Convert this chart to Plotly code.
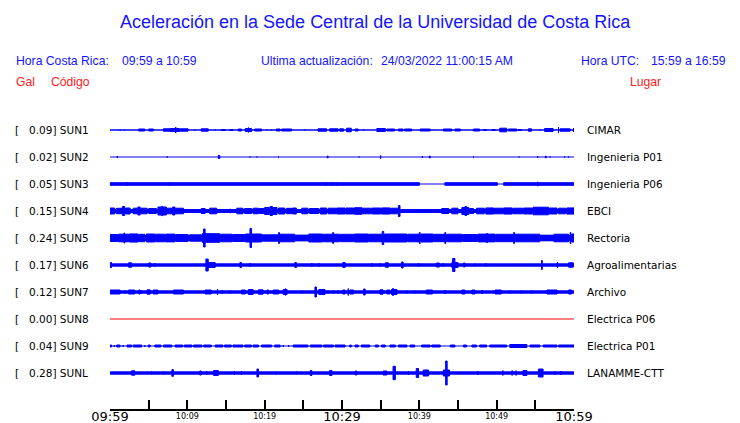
import plotly.graph_objects as go

# ---------------- data ----------------
stations = ["SUN1", "SUN2", "SUN3", "SUN4", "SUN5", "SUN6", "SUN7", "SUN8", "SUN9", "SUNL"]
gal_max = ["0.09", "0.02", "0.05", "0.15", "0.24", "0.17", "0.12", "0.00", "0.04", "0.28"]
places = ["CIMAR", "Ingenieria P01", "Ingenieria P06", "EBCI", "Rectoria",
          "Agroalimentarias", "Archivo", "Electrica P06", "Electrica P01", "LANAMME-CTT"]

# time axis (minutes after 09:59)
tick_minutes = [0, 5, 10, 15, 20, 25, 30, 35, 40, 45, 50, 55, 60]
minor_tick_minutes = [10, 20, 40, 50]
minor_tick_labels = ["10:09", "10:19", "10:39", "10:49"]
major_tick_minutes = [0, 30, 60]
major_tick_labels = ["09:59", "10:29", "10:59"]

# base (quiet) half-amplitude of each trace
base_amp = [0.7, 0.6, 0.6, 2.0, 3.0, 1.7, 1.7, 0.5, 0.6, 1.7]

# bursts: (start minute, end minute, half amplitude)
sun1 = [(1.3, 1.3, 1), (1.9, 1.9, 1), (3.7, 4.5, 1.5), (5.0, 5.6, 1.5), (6.9, 7.8, 1.7), (7.8, 9.0, 2),
        (8.5, 8.5, 3.5), (9.1, 10.1, 1.7), (11.0, 11.0, 1), (11.8, 12.7, 1.7), (13.6, 13.6, 1),
        (14.4, 14.9, 1), (15.5, 15.9, 1), (16.6, 17.0, 1.5), (17.5, 18.3, 2), (17.9, 17.9, 3),
        (18.7, 19.6, 1.5), (20.3, 20.3, 1), (20.9, 20.9, 1), (21.5, 22.0, 1.5), (22.2, 23.5, 1.5),
        (25.2, 25.2, 1), (26.9, 28.0, 1.7), (28.4, 29.5, 1.7), (29.7, 30.2, 1.7), (30.6, 31.2, 2.3),
        (31.7, 32.1, 1.5), (32.8, 32.8, 1), (34.5, 35.6, 2), (35.8, 36.8, 1.5), (37.3, 37.9, 1.5),
        (38.1, 39.0, 1.5), (40.1, 41.4, 1.5), (43.1, 44.2, 1.5), (44.6, 45.3, 1.5), (47.0, 47.8, 1.5),
        (48.3, 48.7, 1), (49.4, 49.8, 1), (50.4, 51.3, 2.3), (51.5, 52.6, 1.5), (52.8, 53.2, 1),
        (54.1, 54.5, 1.7), (55.6, 55.6, 1), (56.2, 57.3, 2), (58.0, 58.0, 3.5), (58.2, 59.5, 1.7),
        (59.9, 60, 2)]
sun2 = [(0.95, 0.95, 1.5), (7.4, 7.4, 1.2), (14.0, 14.2, 2), (18.1, 18.1, 1), (19.0, 19.0, 1),
        (21.8, 21.8, 1), (28.1, 28.2, 1.5), (32.2, 32.2, 1), (35.0, 35.0, 2), (40.4, 40.4, 1.5),
        (41.3, 41.4, 1.5), (47.0, 47.0, 1), (52.9, 52.9, 1), (55.3, 55.3, 1.5), (56.3, 56.4, 1.5),
        (56.9, 56.9, 1), (58.8, 58.8, 1), (59.3, 59.3, 1)]
sun3 = [(0, 40.0, 1.8), (43.3, 50.1, 1.8), (50.9, 60, 1.8), (0, 0, 2.5), (2.2, 2.2, 2.5), (7.7, 7.7, 2.5),
        (27.9, 27.9, 2.5), (28.8, 28.8, 2.5), (29.3, 29.3, 2.2), (55.3, 55.3, 2.7)]
sun4 = [(0, 0.6, 3.5), (0.8, 1.5, 3.2), (1.6, 1.9, 5), (2.0, 2.6, 3.5), (3.0, 3.5, 3.3), (3.6, 3.9, 4.5),
        (4.0, 4.8, 3.3), (5.0, 6.0, 3.0), (6.2, 7.3, 4.5), (6.7, 6.8, 5.2), (7.4, 8.0, 3.3), (8.1, 8.4, 4.5),
        (8.5, 9.5, 3.3), (11.8, 12.3, 3), (12.9, 13.8, 3.3), (15.5, 15.6, 2.5), (16.4, 17.2, 3.3),
        (17.4, 18.3, 3.0), (18.5, 19.2, 3.3), (19.3, 20.0, 3.0), (20.0, 20.6, 4.0), (20.7, 21.0, 5),
        (21.1, 21.6, 4.0), (21.8, 22.6, 3.5), (22.8, 23.5, 3.2), (23.6, 24.1, 3.5), (24.8, 25.6, 3.3),
        (25.8, 27.0, 3.0), (27.2, 28.0, 3.5), (28.2, 29.2, 3.3), (29.3, 30.4, 3.5), (30.5, 31.5, 3.5),
        (31.6, 32.6, 3.8), (32.7, 33.8, 3.3), (33.9, 35.0, 3.5), (35.1, 36.2, 3.6), (36.3, 37.2, 3.3),
        (37.3, 37.5, 6), (42.9, 43.8, 3.0), (44.2, 45.0, 3.3), (45.5, 46.4, 4.0), (45.9, 46.1, 5),
        (46.5, 47.0, 3.0), (47.4, 48.4, 3.3), (48.6, 49.6, 3.6), (49.7, 50.8, 3.3), (50.9, 52.0, 3.6),
        (52.1, 53.4, 3.3), (53.5, 54.6, 3.5), (54.7, 56.7, 4.3), (56.8, 57.8, 3.5), (58.0, 59.0, 3.3),
        (59.1, 60, 3.6)]
sun5 = [(0, 1.0, 4.0), (1.1, 2.4, 4.3), (1.8, 1.9, 5.5), (2.5, 3.6, 4.6), (3.7, 4.5, 4.2), (4.7, 5.8, 4.5),
        (5.9, 7.1, 4.3), (7.2, 8.4, 4.4), (8.5, 10.1, 4.0), (10.3, 11.8, 3.7), (11.9, 14.2, 4.8),
        (12.1, 12.3, 9.5), (14.3, 15.8, 4.3), (15.9, 17.4, 4.0), (17.5, 19.6, 4.5), (18.1, 18.3, 10),
        (19.7, 21.7, 3.7), (21.8, 23.9, 4.3), (21.8, 21.9, 6), (24.0, 25.6, 3.4), (25.7, 27.5, 4.5),
        (27.6, 29.7, 4.3), (28.8, 28.9, 6), (29.8, 31.5, 4.2), (31.6, 33.4, 4.5), (33.5, 35.2, 4.3),
        (35.2, 35.4, 7), (35.5, 38.4, 4.5), (38.5, 40.0, 4.3), (40.0, 40.1, 6), (40.2, 41.8, 4.5),
        (41.9, 43.5, 4.2), (43.3, 43.4, 6), (43.6, 45.5, 4.3), (45.6, 47.5, 4.0), (47.6, 49.8, 4.4),
        (48.7, 48.8, 5), (49.9, 52.1, 4.2), (52.2, 52.3, 6), (52.4, 55.6, 4.3), (55.7, 57.3, 3.3),
        (57.4, 59.3, 4.3), (59.5, 59.6, 6), (59.7, 60, 4.5)]
sun6 = [(0, 0.2, 3), (2.4, 2.8, 2.7), (5.0, 5.3, 2.5), (5.8, 5.8, 2.5), (12.4, 12.7, 6.5), (12.7, 13.6, 3),
        (16.8, 17.0, 3), (18.1, 18.1, 2.5), (23.9, 24.1, 3), (26.1, 26.1, 2.5), (27.0, 27.0, 2.5),
        (30.1, 30.4, 3), (33.9, 33.9, 2.5), (34.9, 34.9, 2.3), (35.6, 36.0, 2.7), (37.7, 37.9, 3.5),
        (39.9, 39.9, 2.5), (42.2, 42.6, 2.5), (43.1, 43.1, 2.5), (44.3, 44.6, 7), (44.2, 45.0, 3),
        (45.7, 45.9, 2.5), (47.2, 47.2, 2), (48.6, 48.6, 2), (55.8, 55.9, 5), (57.8, 57.9, 3),
        (59.3, 59.9, 2.7)]
sun7 = [(0, 1.3, 2.5), (1.9, 1.9, 2), (2.4, 3.2, 2.5), (3.7, 3.9, 2.5), (4.1, 4.1, 2), (4.8, 5.2, 2.7),
        (5.6, 6.2, 2.5), (8.2, 9.5, 2.5), (12.3, 13.1, 2.5), (13.9, 13.9, 3.5), (14.5, 14.5, 2.5),
        (15.5, 15.5, 2), (17.0, 17.5, 2.5), (17.9, 18.5, 3), (19.2, 19.8, 2.7), (20.3, 20.5, 2.5),
        (21.1, 21.8, 2.5), (22.4, 22.9, 3), (22.7, 22.7, 4), (24.8, 24.8, 2), (26.5, 26.7, 5.5),
        (27.0, 27.8, 3), (28.2, 28.2, 2), (28.9, 28.9, 2), (29.5, 29.5, 2), (30.1, 30.4, 2.5),
        (30.8, 30.8, 4), (31.0, 31.5, 2.5), (32.8, 33.0, 3.5), (34.9, 35.3, 2.7), (35.8, 36.2, 2.5),
        (36.4, 37.1, 3), (36.6, 36.6, 4.5), (38.4, 38.4, 2), (39.4, 39.4, 2), (40.9, 41.7, 2.5),
        (43.3, 43.3, 2.5), (45.5, 45.9, 2.5), (46.8, 47.2, 2.5), (48.1, 48.1, 2.5), (49.8, 50.6, 2.5),
        (51.7, 51.7, 2), (53.2, 53.2, 2), (54.5, 54.5, 2), (56.5, 57.8, 2.5), (59.3, 59.7, 2.5)]
sun8 = []
sun9 = [(0, 0.2, 1.5), (0.56, 0.56, 1.5), (0.86, 1.3, 1.5), (1.7, 1.7, 1.5), (2.2, 2.8, 1.5), (3.0, 4.1, 1.5),
        (4.5, 4.5, 1.5), (4.95, 5.2, 1.5), (5.8, 6.6, 1.5), (6.9, 8.0, 1.5), (8.4, 9.4, 1.5), (9.6, 10.6, 1.5),
        (10.8, 11.9, 1.5), (12.1, 13.1, 1.5), (13.6, 14.6, 1.5), (14.8, 15.7, 1.5), (15.9, 17.2, 1.5),
        (17.4, 18.3, 1.5), (18.5, 19.2, 1.5), (19.6, 20.9, 1.5), (21.3, 22.0, 1.5), (22.4, 22.4, 1.5),
        (23.1, 23.1, 1.5), (23.7, 25.6, 1.5), (25.9, 27.4, 1.5), (27.6, 28.9, 1.5), (29.1, 30.4, 1.5),
        (31.0, 31.2, 1.5), (31.7, 32.1, 1.5), (32.5, 33.6, 1.5), (34.3, 34.7, 1.5), (35.1, 35.6, 1.5),
        (36.2, 36.9, 1.5), (37.3, 38.4, 1.5), (38.8, 39.4, 1.5), (40.3, 41.4, 1.5), (41.6, 42.7, 1.5),
        (44.0, 44.6, 1.5), (45.7, 46.1, 1.5), (46.8, 47.4, 1.5), (47.8, 48.7, 1.5), (49.1, 51.3, 1.5),
        (51.7, 53.9, 2.0), (54.3, 55.6, 1.5), (56.0, 57.8, 1.5), (58.0, 60, 1.5)]
sunl = [(2.8, 3.2, 2.7), (5.4, 5.4, 2), (6.9, 6.9, 1.8), (8.0, 8.2, 3.8), (11.6, 11.8, 2.5), (12.5, 12.5, 2.5),
        (13.4, 14.0, 3), (16.1, 16.1, 2.5), (17.0, 17.0, 2.5), (19.0, 19.2, 4.5), (21.5, 21.5, 2),
        (24.1, 24.1, 2), (25.9, 26.1, 3), (28.4, 28.7, 3), (31.7, 31.9, 2.5), (35.3, 35.8, 2.5),
        (36.6, 36.9, 7.2), (38.6, 38.6, 2.5), (39.6, 39.9, 5), (40.5, 41.2, 3.5), (43.1, 43.9, 3.5),
        (43.4, 43.6, 12.5), (47.6, 47.6, 2.5), (50.8, 50.8, 3), (52.0, 52.0, 3), (52.5, 52.5, 3),
        (53.4, 53.9, 3), (55.4, 56.0, 4.5), (57.5, 57.5, 2.5), (58.3, 58.3, 2.5)]
bursts = [sun1, sun2, sun3, sun4, sun5, sun6, sun7, sun8, sun9, sunl]

# ---------------- styling / layout ----------------
PAGE = 8                      # default page margin of the html body
VW, VH = 740, 423             # visible window
W, H = VW - PAGE, VH - PAGE   # figure size
X0, X1 = 110, 574             # plot area in window pixels
Y0, Y1 = 115, 409
L, R = X0 - PAGE, VW - X1
T, B = Y0 - PAGE, VH - Y1
ROW = 27          # vertical spacing between traces (y units == px)
FIRST = 130       # window pixel of first trace
OUTLINE = 0.5     # half of outline width, compensated in drawing
BLUE = "#0000ff"
RED = "#ff0000"
TXT_BLUE = "#1414ff"
TXT_RED = "#ff1a1a"
plot_w = X1 - X0
plot_h = Y1 - Y0

def px_x(px):
    return (px - X0) / plot_w

def px_y(py):
    return (Y1 - py) / plot_h

xrange_ = [tick_minutes[0], tick_minutes[-1]]

fig = go.Figure()
for i, name in enumerate(stations):
    off = i * ROW
    color = RED if name == "SUN8" else BLUE
    b = base_amp[i]
    fig.add_trace(go.Scatter(x=xrange_, y=[off, off], mode="lines",
                             line=dict(color=color, width=max(1.0, 2 * b)), hoverinfo="skip",
                             showlegend=False))
    xs, ys = [], []
    for t0, t1, a in bursts[i]:
        a = max(a - OUTLINE, 0.5)
        xs += [t0, t1, t1, t0, t0, None]
        ys += [off - a, off - a, off + a, off + a, off - a, None]
    if xs:
        fig.add_trace(go.Scatter(x=xs, y=ys, mode="lines", fill="toself", fillcolor=color,
                                 line=dict(color=color, width=1), hoverinfo="skip", showlegend=False))

# transparent helper trace so that the overlaid axis carrying the large time labels is drawn
fig.add_trace(go.Scatter(x=xrange_, y=[0, 0], xaxis="x2", yaxis="y", mode="lines",
                         line=dict(width=0, color="rgba(0,0,0,0)"), opacity=0,
                         hoverinfo="skip", showlegend=False))

fig.update_layout(
    width=W, height=H,
    margin=dict(l=L, r=R, t=T, b=B, pad=0, autoexpand=False),
    paper_bgcolor="white", plot_bgcolor="white",
    font=dict(family="DejaVu Sans", color="black"),
    xaxis=dict(range=xrange_, showgrid=False, zeroline=False,
               showline=True, linecolor="black", linewidth=1.5, automargin=False,
               ticks="inside", ticklen=9, tickwidth=1.5, tickcolor="black",
               tickmode="array", tickvals=tick_minutes,
               ticktext=[minor_tick_labels[minor_tick_minutes.index(t)] if t in minor_tick_minutes else ""
                         for t in tick_minutes],
               tickfont=dict(family="DejaVu Sans", size=8, color="black"), ticklabelstandoff=-1),
    xaxis2=dict(range=xrange_, overlaying="x", anchor="y", side="bottom", showgrid=False,
                zeroline=False, showline=False, automargin=False, ticks="",
                tickmode="array", tickvals=major_tick_minutes, ticktext=major_tick_labels,
                tickfont=dict(family="DejaVu Sans", size=13, color="black"), ticklabelstandoff=-2),
    yaxis=dict(range=[(Y1 - FIRST), (Y0 - FIRST)], showgrid=False, automargin=False,
               zeroline=False, showticklabels=False, showline=False),
)

ann = []
def add_text(text, px, py, size, color, family="Liberation Sans", anchor="left"):
    ann.append(dict(text=text, x=px_x(px), y=px_y(py), xref="paper", yref="paper",
                    xanchor=anchor, yanchor="middle", showarrow=False,
                    font=dict(family=family, size=size, color=color)))

add_text("Aceleración en la Sede Central de la Universidad de Costa Rica", 375, 22, 18, TXT_BLUE, anchor="center")
add_text("Hora Costa Rica:", 14, 61, 12.2, TXT_BLUE)
add_text("09:59 a 10:59", 120, 61, 12.2, TXT_BLUE)
add_text("Ultima actualización:", 259, 61, 12.2, TXT_BLUE)
add_text("24/03/2022 11:00:15 AM", 379, 61, 12.2, TXT_BLUE)
add_text("Hora UTC:", 579, 61, 12.2, TXT_BLUE)
add_text("15:59 a 16:59", 649, 61, 12.2, TXT_BLUE)
add_text("Gal", 14, 82, 12.2, TXT_RED)
add_text("Código", 49, 82, 12.2, TXT_RED)
add_text("Lugar", 628, 82, 12.2, TXT_RED)

for i, name in enumerate(stations):
    off = i * ROW
    for text, px in [("[", 13), (f"{gal_max[i]}] {name}", 27)]:
        ann.append(dict(text=text, x=px_x(px), y=off, xref="paper", yref="y", xanchor="left",
                        yanchor="middle", showarrow=False,
                        font=dict(family="DejaVu Sans", size=10.5, color="black")))
    ann.append(dict(text=places[i], x=px_x(585), y=off, xref="paper", yref="y", xanchor="left",
                    yanchor="middle", showarrow=False,
                    font=dict(family="DejaVu Sans", size=10.5, color="black")))

fig.update_layout(annotations=ann)
fig.write_html("out.html")
